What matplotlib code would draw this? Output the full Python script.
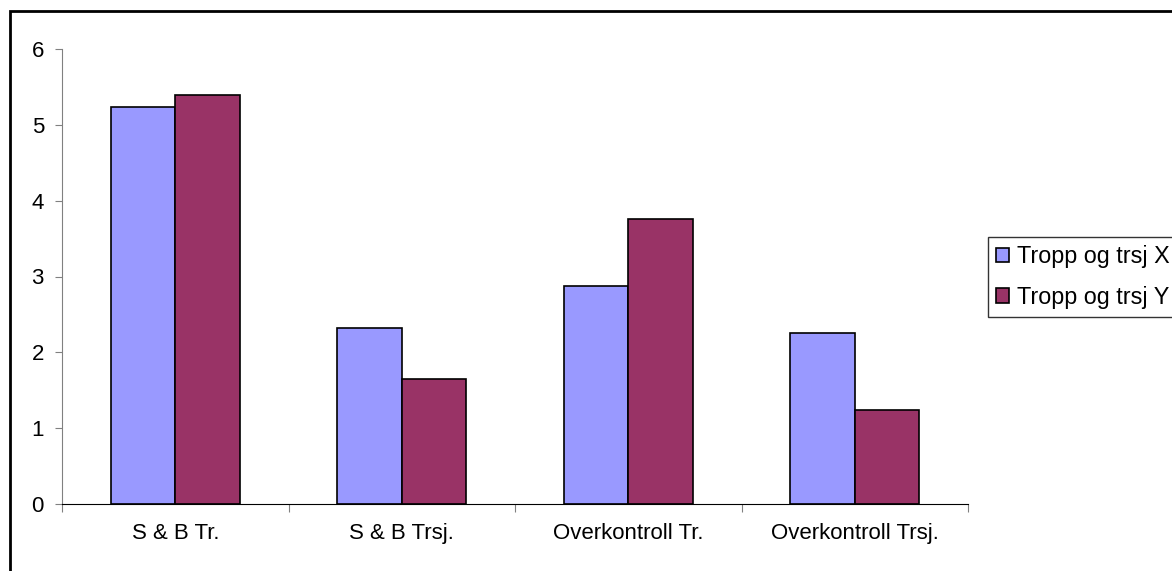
import matplotlib.pyplot as plt
import numpy as np
from matplotlib.patches import Rectangle

plt.rcParams['font.family'] = ['Liberation Sans', 'DejaVu Sans']

categories = ['S & B Tr.', 'S & B Trsj.', 'Overkontroll Tr.', 'Overkontroll Trsj.']
x_vals = [5.23, 2.32, 2.87, 2.25]
y_vals = [5.39, 1.65, 3.76, 1.24]
labels = ['Tropp og trsj X', 'Tropp og trsj Y']

fig = plt.figure(figsize=(11.72, 5.71), dpi=100)
ax = fig.add_axes([62 / 1172, 67 / 571, 906 / 1172, 455 / 571])

pos = np.arange(len(categories))
w = 2 / 7
ax.bar(pos - w / 2, x_vals, w, color='#9999FF', edgecolor='black', linewidth=1.2, label=labels[0])
ax.bar(pos + w / 2, y_vals, w, color='#993366', edgecolor='black', linewidth=1.2, label=labels[1])

ax.set_xlim(-0.5, 3.5)
ax.set_ylim(0, 6)
ax.set_yticks(range(7))

# ticks between categories, labels in the middle
ax.set_xticks(np.arange(-0.5, 4, 1))
ax.set_xticklabels([])
ax.set_xticks(pos, minor=True)
ax.set_xticklabels(categories, minor=True)
ax.tick_params(axis='x', which='minor', length=0, pad=14, labelsize=16)
ax.tick_params(axis='x', which='major', length=6, color='#808080', direction='out')
ax.tick_params(axis='y', length=5, color='#808080', labelsize=16, pad=8)

ax.spines['top'].set_visible(False)
ax.spines['right'].set_visible(False)
ax.spines['left'].set_color('#808080')
ax.spines['bottom'].set_color('black')

leg = fig.legend(loc='center left', bbox_to_anchor=(988 / 1172, 294 / 571),
                 fontsize=16.8, frameon=True, fancybox=False, edgecolor='black',
                 handlelength=0.55, handleheight=0.55, handletextpad=0.35,
                 labelspacing=0.75, borderpad=0.35, borderaxespad=0)
leg.get_frame().set_linewidth(1)

# outer chart border
fig.patches.append(Rectangle((10 / 1172, -0.1), 1.2, (560 / 571) + 0.1,
                             transform=fig.transFigure, fill=False,
                             edgecolor='black', linewidth=2))

plt.savefig('out.png', dpi=100)
